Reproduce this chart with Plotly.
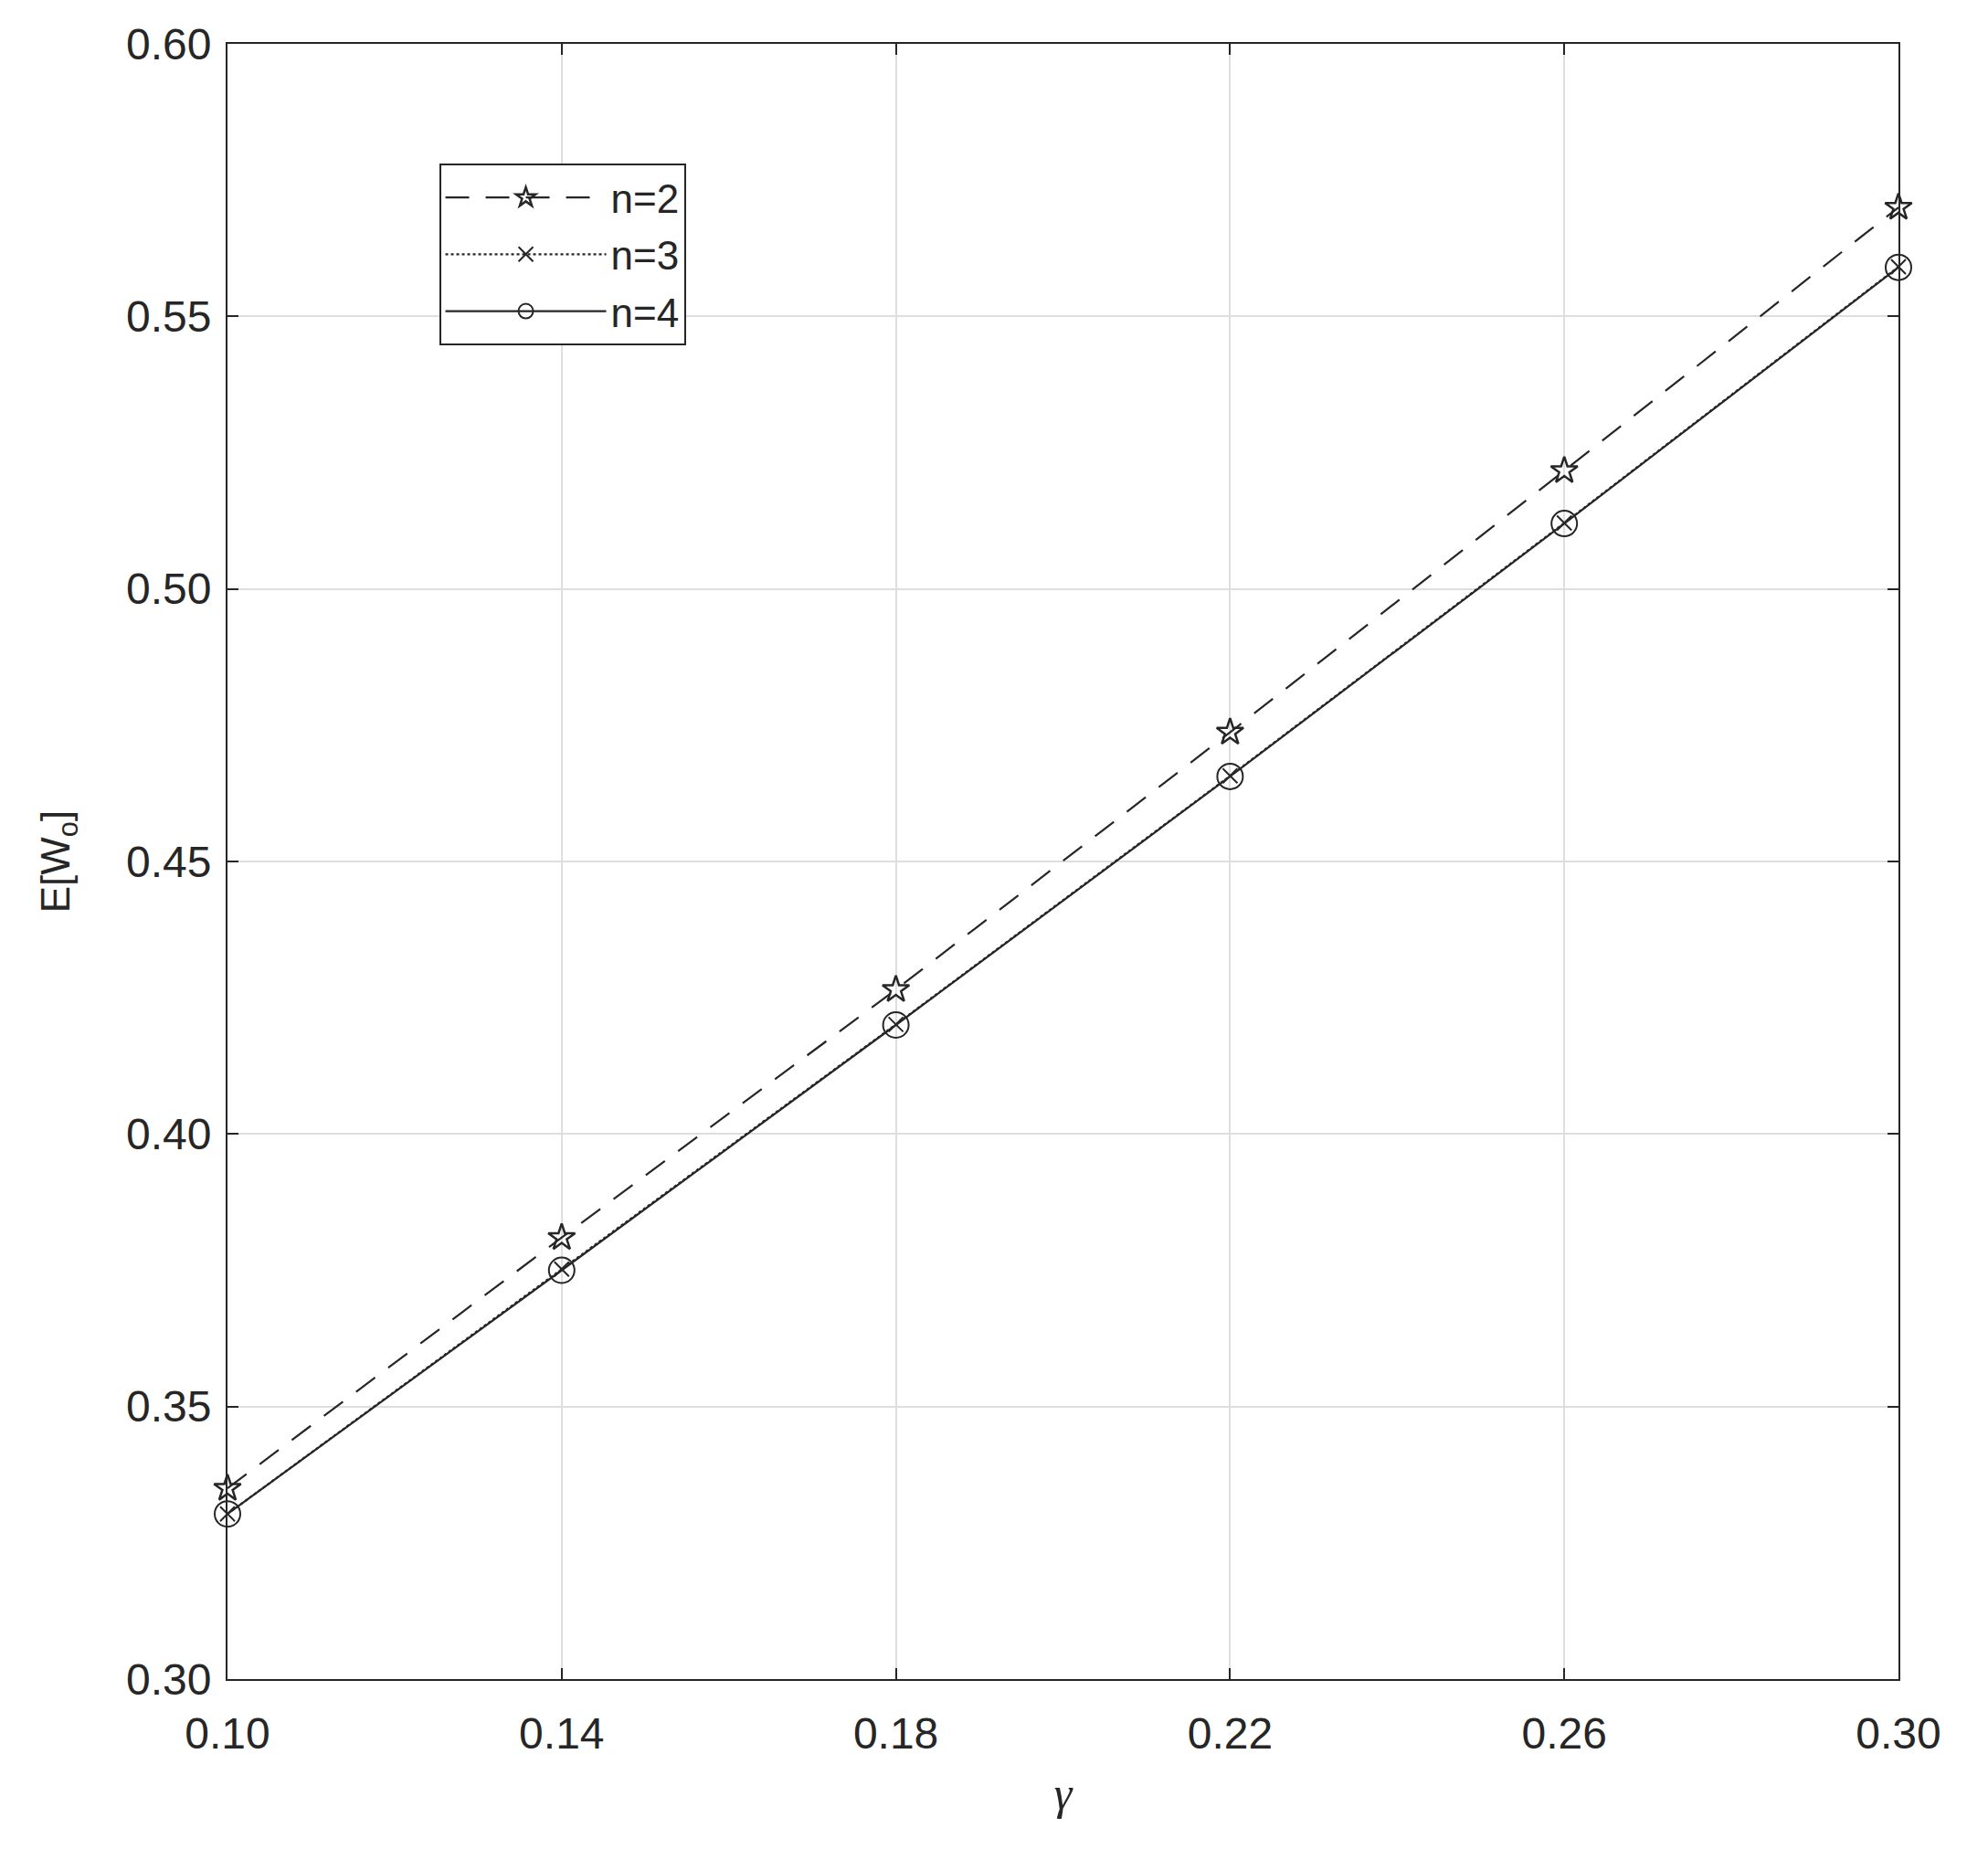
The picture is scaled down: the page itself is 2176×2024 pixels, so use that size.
import plotly.graph_objects as go

# values
gamma = [0.10, 0.14, 0.18, 0.22, 0.26, 0.30]
w_n2 = [0.335, 0.381, 0.4265, 0.4737, 0.5217, 0.570]
w_n3 = [0.3303, 0.3752, 0.4201, 0.4657, 0.5121, 0.5591]
w_n4 = [0.3303, 0.375, 0.420, 0.4656, 0.512, 0.559]
series_names = ["n=2", "n=3", "n=4"]
x_ticks = [0.10, 0.14, 0.18, 0.22, 0.26, 0.30]
x_ticklabels = ["0.10", "0.14", "0.18", "0.22", "0.26", "0.30"]
y_ticks = [0.30, 0.35, 0.40, 0.45, 0.50, 0.55, 0.60]

ink = "#262626"
font_main = "Liberation Sans, Arial, sans-serif"

fig = go.Figure()

# n=2: dashed line with open stars
fig.add_trace(go.Scatter(
    x=gamma, y=w_n2, name=series_names[0], mode="lines+markers", legendgroup="a",
    line=dict(color=ink, width=2.2, dash="26px,18px"),
    marker=dict(symbol="star-open", size=22, color=ink, line=dict(width=2.5, color=ink)),
    cliponaxis=False
))

# n=3: dotted line with crosses
fig.add_trace(go.Scatter(
    x=gamma, y=w_n3, name=series_names[1], mode="lines+markers", legendgroup="b",
    line=dict(color=ink, width=2.2, dash="dot"),
    marker=dict(symbol="x-thin-open", size=16, color=ink, line=dict(width=2, color=ink)),
    cliponaxis=False
))

# n=4: solid line with open circles
fig.add_trace(go.Scatter(
    x=gamma, y=w_n4, name=series_names[2], mode="lines+markers", legendgroup="c",
    line=dict(color=ink, width=2.2),
    marker=dict(symbol="circle-open", size=28, color=ink, line=dict(width=2, color=ink)),
    cliponaxis=False
))

axis_common = dict(
    showline=True, linecolor=ink, linewidth=2, mirror="ticks",
    ticks="inside", ticklen=12, tickwidth=2, tickcolor=ink,
    showgrid=True, gridcolor="#dedede", gridwidth=1.5,
    zeroline=False,
    tickfont=dict(family=font_main, size=48, color=ink),
)

fig.update_xaxes(
    range=[0.10, 0.30], tickvals=x_ticks, ticktext=x_ticklabels,
    ticklabelstandoff=16,
    title=dict(text="<i>γ</i>", font=dict(family="Liberation Serif, Times New Roman, serif",
                                          size=50, color=ink), standoff=22),
    **axis_common
)
fig.update_yaxes(
    range=[0.30, 0.60], tickvals=y_ticks, tickformat=".2f",
    ticklabelstandoff=6,
    title=dict(text="E[W<sub>o</sub>]", font=dict(family=font_main, size=44, color=ink),
               standoff=48),
    **axis_common
)

fig.update_layout(
    width=2176, height=2024,
    margin=dict(l=241, r=106, t=40, b=194),
    plot_bgcolor="white", paper_bgcolor="white",
    font=dict(family=font_main, color=ink),
    legend=dict(
        x=0.1266, y=0.9268, xanchor="left", yanchor="top",
        bgcolor="white", bordercolor=ink, borderwidth=2,
        font=dict(family=font_main, size=44, color=ink),
        itemwidth=176, tracegroupgap=2,
    ),
)

fig.write_html("out.html")
